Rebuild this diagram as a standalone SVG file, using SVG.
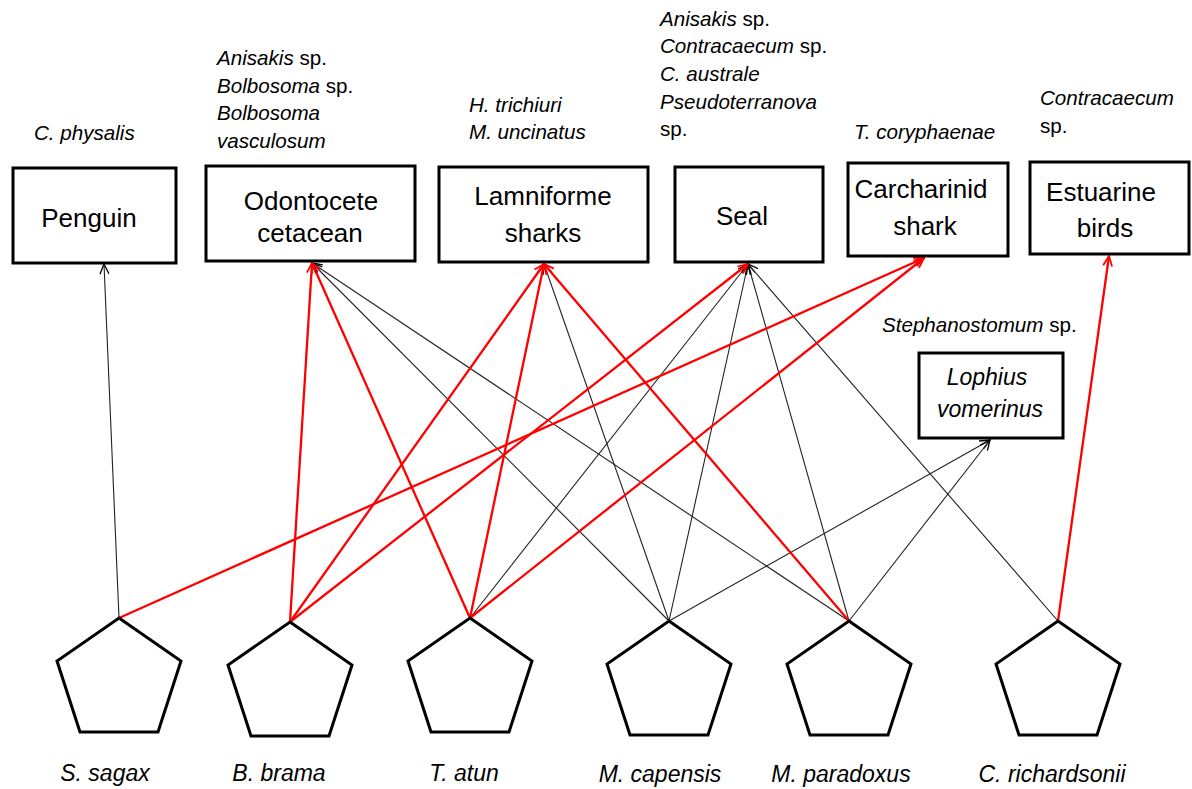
<svg xmlns="http://www.w3.org/2000/svg" width="1192" height="789" viewBox="0 0 1192 789">
<style>
.box{fill:#fff;stroke:#000;stroke-width:3}
.pent{fill:#fff;stroke:#000;stroke-width:3;stroke-linejoin:miter}
.lbl{font-family:"Liberation Sans",Arial,sans-serif;font-size:26px;fill:#000;text-anchor:middle}
.ann{font-family:"Liberation Sans",Arial,sans-serif;font-size:20.6px;fill:#000}
.it{font-style:italic}
.sp{font-family:"Liberation Sans",Arial,sans-serif;font-size:23px;font-style:italic;fill:#000;text-anchor:middle}
.bk{stroke:#222;stroke-width:1.1;fill:none;marker-end:url(#ahb)}
.rd{stroke:#ff0000;stroke-width:2.3;fill:none;marker-end:url(#ahr)}
</style>
<defs>
<marker id="ahb" viewBox="0 0 12 12" refX="11" refY="6" markerWidth="12" markerHeight="12" markerUnits="userSpaceOnUse" orient="auto"><path d="M1,1.5 L11,6 L1,10.5" fill="none" stroke="#000" stroke-width="1.3"/></marker>
<marker id="ahr" viewBox="0 0 12 12" refX="11" refY="6" markerWidth="12" markerHeight="12" markerUnits="userSpaceOnUse" orient="auto"><path d="M1,1.5 L11,6 L1,10.5" fill="none" stroke="#ff0000" stroke-width="1.8"/></marker>
</defs>
<rect width="1192" height="789" fill="#fff"/>

<g id="connectors">
<line class="bk" x1="119" y1="618" x2="104" y2="264"/>
<line class="bk" x1="669" y1="621" x2="312" y2="263"/>
<line class="bk" x1="849" y1="621" x2="312" y2="263"/>
<line class="bk" x1="669" y1="621" x2="544" y2="264"/>
<line class="bk" x1="470" y1="618" x2="748" y2="264"/>
<line class="bk" x1="669" y1="621" x2="748" y2="264"/>
<line class="bk" x1="849" y1="621" x2="748" y2="264"/>
<line class="bk" x1="1058" y1="621" x2="748" y2="264"/>
<line class="bk" x1="669" y1="621" x2="990" y2="440"/>
<line class="bk" x1="849" y1="621" x2="990" y2="440"/>
<line class="rd" x1="290" y1="622" x2="312" y2="263"/>
<line class="rd" x1="470" y1="618" x2="312" y2="263"/>
<line class="rd" x1="290" y1="622" x2="544" y2="264"/>
<line class="rd" x1="470" y1="618" x2="544" y2="264"/>
<line class="rd" x1="849" y1="621" x2="544" y2="264"/>
<line class="rd" x1="290" y1="622" x2="748" y2="264"/>
<line class="rd" x1="119" y1="618" x2="924" y2="258"/>
<line class="rd" x1="470" y1="618" x2="924" y2="258"/>
<line class="rd" x1="1058" y1="621" x2="1109" y2="256"/>
</g>

<g id="penguin">
<rect class="box" x="13" y="168" width="163" height="95"/>
<text class="lbl" x="89" y="227">Penguin</text>
<text class="ann" x="34" y="140"><tspan class="it">C. physalis</tspan></text>
</g>

<g id="odontocete">
<rect class="box" x="206" y="166" width="209" height="95"/>
<text class="lbl" x="311" y="210">Odontocete</text>
<text class="lbl" x="310" y="242">cetacean</text>
<text class="ann" x="217" y="65"><tspan class="it">Anisakis</tspan> sp.</text>
<text class="ann" x="217" y="93"><tspan class="it">Bolbosoma</tspan> sp.</text>
<text class="ann" x="217" y="120"><tspan class="it">Bolbosoma</tspan></text>
<text class="ann" x="217" y="148"><tspan class="it">vasculosum</tspan></text>
</g>

<g id="lamniforme">
<rect class="box" x="439" y="167" width="209" height="95"/>
<text class="lbl" x="543" y="205">Lamniforme</text>
<text class="lbl" x="543" y="242">sharks</text>
<text class="ann" x="469" y="112"><tspan class="it">H. trichiuri</tspan></text>
<text class="ann" x="469" y="139"><tspan class="it">M. uncinatus</tspan></text>
</g>

<g id="seal">
<rect class="box" x="675" y="167" width="148" height="95"/>
<text class="lbl" x="742" y="225">Seal</text>
<text class="ann" x="660" y="26"><tspan class="it">Anisakis</tspan> sp.</text>
<text class="ann" x="660" y="53"><tspan class="it">Contracaecum</tspan> sp.</text>
<text class="ann" x="660" y="81"><tspan class="it">C. australe</tspan></text>
<text class="ann" x="660" y="109"><tspan class="it">Pseudoterranova</tspan></text>
<text class="ann" x="660" y="136">sp.</text>
</g>

<g id="carcharinid">
<rect class="box" x="848" y="163" width="160" height="93"/>
<text class="lbl" x="921" y="198">Carcharinid</text>
<text class="lbl" x="925" y="235">shark</text>
<text class="ann" x="854" y="139"><tspan class="it">T. coryphaenae</tspan></text>
</g>

<g id="estuarine">
<rect class="box" x="1030" y="162" width="159" height="92"/>
<text class="lbl" x="1101" y="201">Estuarine</text>
<text class="lbl" x="1105" y="237">birds</text>
<text class="ann" x="1040" y="105"><tspan class="it">Contracaecum</tspan></text>
<text class="ann" x="1040" y="133">sp.</text>
</g>

<g id="lophius">
<rect class="box" x="919" y="353" width="144" height="85"/>
<text class="sp" x="987" y="385">Lophius</text>
<text class="sp" x="990" y="417">vomerinus</text>
<text class="ann" x="882" y="332"><tspan class="it">Stephanostomum</tspan> sp.</text>
</g>

<g id="s-sagax">
<polygon class="pent" points="119,618 181,661 158,732 80,732 57,661"/>
<text class="sp" x="105" y="781">S. sagax</text>
</g>
<g id="b-brama">
<polygon class="pent" points="290,622 352,665 329,736 251,736 228,665"/>
<text class="sp" x="279" y="781">B. brama</text>
</g>
<g id="t-atun">
<polygon class="pent" points="470,618 532,661 509,732 431,732 408,661"/>
<text class="sp" x="464" y="781">T. atun</text>
</g>
<g id="m-capensis">
<polygon class="pent" points="669,621 731,664 708,735 630,735 607,664"/>
<text class="sp" x="660" y="782">M. capensis</text>
</g>
<g id="m-paradoxus">
<polygon class="pent" points="849,621 911,664 888,735 810,735 787,664"/>
<text class="sp" x="841" y="782">M. paradoxus</text>
</g>
<g id="c-richardsonii">
<polygon class="pent" points="1058,621 1120,664 1097,735 1019,735 996,664"/>
<text class="sp" x="1052" y="782">C. richardsonii</text>
</g>
</svg>
